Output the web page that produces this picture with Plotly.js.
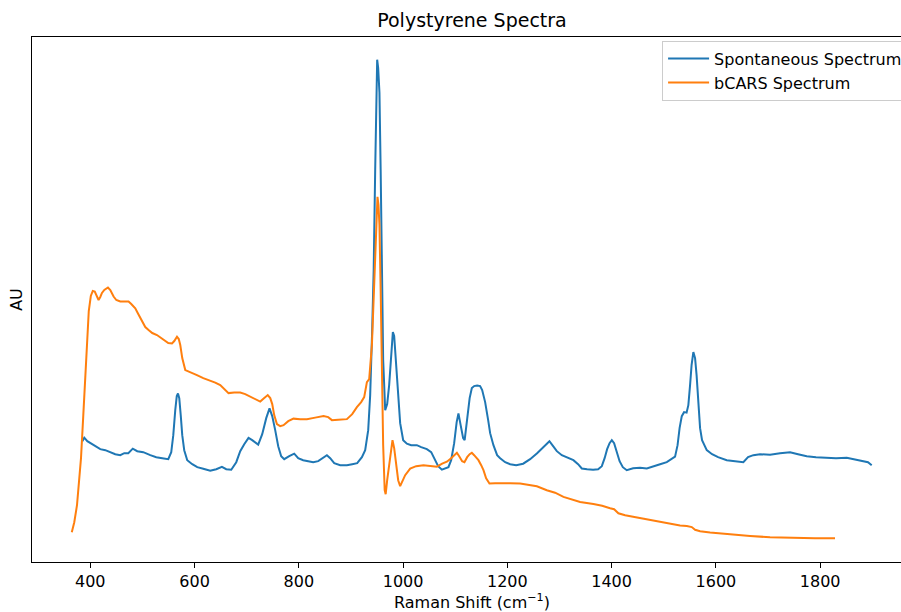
<!DOCTYPE html>
<html>
<head>
<meta charset="utf-8">
<script src="https://cdn.plot.ly/plotly-3.0.1.min.js"></script>
<style>
html,body{margin:0;padding:0;overflow:hidden;background:#fff;}
#chart{width:920px;height:612px;}
</style>
</head>
<body>
<div id="chart"></div>
<script>
// Raman shift (cm^-1) and intensity (AU)
const spontX = [384.7,388.5,394.3,403.8,411.5,419.2,428.8,438.4,447.9,457.5,
465.2,472.9,481.5,490.1,501.6,515.1,526.6,538.1,549.6,555.3,
559.2,563.0,565.9,568.2,570.7,573.5,576.4,580.2,586.0,595.6,
605.2,616.7,630.1,641.6,652.5,660.8,670.4,680.0,687.6,695.3,
703.5,710.6,722.1,729.8,737.5,743.8,749.0,754.7,760.5,766.2,
772.0,781.6,791.2,798.8,808.4,818.0,827.6,837.2,846.8,853.9,
860.2,867.9,879.4,892.2,902.4,912.0,921.0,927.3,933.1,936.9,
940.7,943.6,946.5,948.4,950.3,952.2,954.7,957.0,959.3,961.8,
965.7,969.5,973.3,977.2,980.4,982.9,985.8,989.6,994.4,1000.2,
1007.3,1015.5,1026.4,1034.7,1045.6,1053.9,1061.5,1067.3,1074.4,1080.7,
1087.0,1092.2,1098.0,1102.8,1106.2,1110.4,1115.2,1118.1,1122.9,1127.7,
1131.9,1136.3,1142.1,1147.8,1151.7,1157.4,1163.2,1167.0,1173.3,1180.4,
1186.2,1195.8,1205.4,1216.9,1230.3,1243.7,1257.1,1268.6,1280.7,1287.8,
1294.9,1304.5,1314.7,1326.7,1335.7,1342.8,1353.0,1364.5,1374.1,1381.2,
1386.6,1391.4,1396.1,1400.4,1404.8,1410.0,1415.3,1421.5,1429.1,1441.2,
1454.6,1467.5,1479.6,1493.0,1505.8,1516.0,1521.7,1526.5,1530.4,1534.6,
1539.0,1543.8,1547.2,1550.5,1553.4,1556.8,1560.1,1563.0,1565.8,1569.7,
1573.5,1582.5,1592.7,1604.2,1620.9,1636.8,1652.7,1661.7,1671.9,1684.7,
1703.9,1723.1,1742.3,1757.6,1774.3,1792.1,1812.6,1830.5,1851.0,1866.9,
1882.8,1891.8,1898.9];
const spontY = [960,995,960,930,900,880,870,850,830,820,
840,840,885,860,850,820,800,790,780,850,
1020,1270,1410,1437,1390,1220,1020,870,770,730,
700,685,665,680,703,680,675,750,860,930,
993,970,925,1030,1190,1287,1210,1070,910,810,
780,810,835,790,770,760,750,760,795,820,
790,740,720,720,730,740,800,870,1070,1420,
2070,2670,3670,4270,4770,4690,4440,3670,2670,1770,
1270,1330,1520,1870,2050,2010,1810,1520,1140,970,
935,920,920,900,880,850,770,710,675,690,
700,770,940,1150,1237,1120,990,970,1170,1390,
1490,1510,1515,1510,1470,1350,1170,1040,920,820,
790,750,730,720,735,780,840,900,960,910,
860,820,800,770,730,687,680,675,680,710,
790,880,940,970,940,860,760,700,670,690,
695,687,710,730,750,790,805,920,1090,1210,
1250,1245,1320,1520,1720,1850,1790,1620,1370,1090,
970,870,830,800,770,760,750,800,820,830,
825,840,850,830,810,800,795,790,795,780,
760,750,720];

const bcarsX = [364.5,369.3,374.5,378.0,382.2,386.6,390.4,394.3,397.1,401.0,
404.8,408.6,412.5,415.9,419.2,422.4,426.9,433.9,438.4,444.7,
449.9,457.5,467.1,473.4,478.6,486.3,492.0,499.1,505.5,511.8,
518.9,527.9,536.1,543.8,549.6,556.7,561.1,566.3,569.7,572.6,
576.4,582.2,591.8,604.6,616.7,630.1,639.7,649.3,657.0,665.2,
676.1,687.6,697.2,706.8,716.4,726.0,733.7,740.4,745.2,749.0,
752.8,758.0,764.3,770.7,779.7,789.8,802.7,815.5,831.4,847.4,
856.4,863.5,875.5,892.2,902.4,911.4,919.6,925.4,930.6,935.0,
940.2,943.2,946.5,949.4,950.9,952.8,954.7,957.0,959.3,961.8,
964.7,966.6,969.5,972.0,975.3,979.7,982.9,986.8,990.6,994.4,
999.2,1004.0,1013.6,1025.1,1039.1,1052.0,1064.8,1075.0,1084.0,1092.2,
1098.0,1103.2,1107.6,1113.3,1117.7,1122.9,1127.7,1131.9,1136.3,1144.6,
1149.8,1154.2,1159.3,1165.7,1176.6,1192.5,1205.4,1224.5,1243.7,1256.6,
1275.7,1291.6,1307.6,1320.4,1339.6,1365.1,1381.8,1397.1,1404.8,1413.0,
1425.9,1441.2,1461.0,1483.4,1506.4,1531.3,1544.2,1553.8,1560.1,1569.7,
1588.9,1608.0,1636.8,1665.6,1703.9,1735.9,1761.4,1790.2,1828.5];
const bcarsY = [50,150,320,520,790,1220,1620,2020,2260,2410,
2460,2455,2400,2370,2400,2440,2470,2495,2470,2405,
2370,2355,2355,2355,2330,2287,2230,2153,2100,2070,
2040,2020,1990,1953,1940,1935,1960,2003,1980,1920,
1790,1670,1645,1620,1590,1565,1545,1520,1480,1440,
1445,1445,1430,1403,1380,1355,1390,1420,1390,1330,
1220,1130,1110,1120,1160,1185,1180,1180,1195,1210,
1200,1170,1175,1180,1230,1300,1350,1400,1550,1580,
1920,2370,2920,3320,3400,3320,3120,2470,1670,920,
470,430,570,670,850,970,890,720,570,510,
570,620,685,710,720,710,705,735,755,790,
820,845,810,760,750,800,830,843,820,770,
720,670,590,537,540,543,540,537,520,510,
470,445,403,385,353,332,315,290,280,240,
220,205,185,160,140,118,112,102,75,60,
47,37,22,13,0,-6,-8,-10,-10];

const xTicks = [400, 600, 800, 1000, 1200, 1400, 1600, 1800];
const seriesNames = ['Spontaneous Spectrum', 'bCARS Spectrum'];

const traces = [
  {x: spontX, y: spontY, type: 'scatter', mode: 'lines', name: seriesNames[0],
   line: {color: '#1f77b4', width: 2}},
  {x: bcarsX, y: bcarsY, type: 'scatter', mode: 'lines', name: seriesNames[1],
   line: {color: '#ff7f0e', width: 2}}
];

const layout = {
  width: 920, height: 612,
  margin: {l: 32, r: 8, t: 37, b: 50},
  paper_bgcolor: '#ffffff', plot_bgcolor: '#ffffff',
  font: {family: 'DejaVu Sans', color: '#000000', size: 16},
  title: {text: 'Polystyrene Spectra', font: {size: 19, family: 'DejaVu Sans'},
          xref: 'paper', x: 0.5, xanchor: 'center', yref: 'container', y: 0.967, yanchor: 'middle'},
  showlegend: true,
  legend: {x: 0.716, y: 0.993, xanchor: 'left', yanchor: 'top',
           bgcolor: 'rgba(255,255,255,0.8)', bordercolor: '#cccccc', borderwidth: 1,
           itemwidth: 41, tracegroupgap: 0,
           font: {size: 16, family: 'DejaVu Sans'}},
  xaxis: {range: [288.2, 1976.2], tickvals: xTicks, ticktext: xTicks.map(String),
          ticks: 'outside', ticklen: 5, tickwidth: 1, tickcolor: '#000',
          showline: true, linecolor: '#000', linewidth: 1, mirror: true,
          showgrid: false, zeroline: false, tickfont: {size: 16},
          title: {text: 'Raman Shift (cm<sup>−1</sup>)', font: {size: 16}, standoff: 4}},
  yaxis: {range: [-247, 4997], showticklabels: false, ticks: '',
          showline: true, linecolor: '#000', linewidth: 1, mirror: true,
          showgrid: false, zeroline: false,
          title: {text: 'AU', font: {size: 16}, standoff: 4}}
};

Plotly.newPlot('chart', traces, layout, {staticPlot: true, displayModeBar: false});
</script>
</body>
</html>
